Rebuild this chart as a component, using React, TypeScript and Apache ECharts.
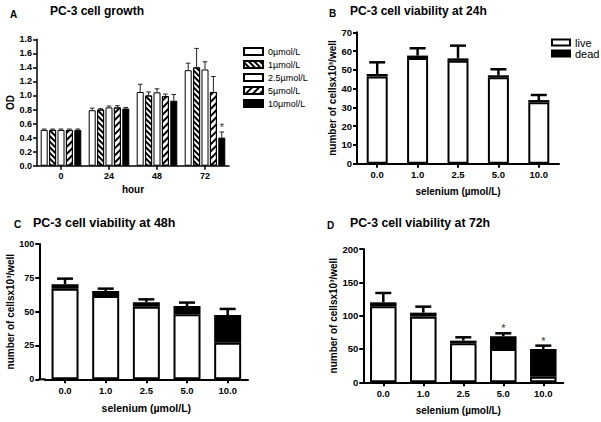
import React, { useEffect, useRef } from 'react';
import * as echarts from 'echarts';

const FONT = '"Liberation Sans", Arial, Helvetica, sans-serif';

// Panel A: PC-3 cell growth (OD)
const hours = ['0', '24', '48', '72'];
const concentrations = ['0µmol/L', '1µmol/L', '2.5µmol/L', '5µmol/L', '10µmol/L'];
const od0 = [0.51, 0.79, 1.05, 1.36];
const od1 = [0.51, 0.8, 1.0, 1.4];
const od25 = [0.51, 0.83, 1.045, 1.37];
const od5 = [0.51, 0.83, 0.99, 1.05];
const od10 = [0.51, 0.815, 0.925, 0.4];
const odErr0 = [0.012, 0.03, 0.11, 0.1];
const odErr1 = [0.012, 0.012, 0.05, 0.27];
const odErr25 = [0.012, 0.02, 0.05, 0.11];
const odErr5 = [0.012, 0.025, 0.03, 0.22];
const odErr10 = [0.012, 0.015, 0.09, 0.08];
const odSig0 = [0, 0, 0, 0];
const odSig1 = [0, 0, 0, 0];
const odSig25 = [0, 0, 0, 0];
const odSig5 = [0, 0, 0, 0];
const odSig10 = [0, 0, 0, 1];

// Panels B-D: viability (number of cells x10^3 / well)
const doses = ['0.0', '1.0', '2.5', '5.0', '10.0'];
const live24 = [46.5, 56.3, 54.8, 46.0, 32.8];
const dead24 = [1.3, 1.3, 1.3, 1.1, 1.1];
const err24 = [6.2, 3.9, 6.8, 3.2, 2.7];
const sig24 = [0, 0, 0, 0, 0];

const live48 = [67.0, 61.6, 53.7, 48.0, 27.0];
const dead48 = [3.2, 3.7, 3.2, 6.2, 20.5];
const err48 = [4.2, 1.7, 2.2, 2.5, 4.5];
const sig48 = [0, 0, 0, 0, 0];

const live72 = [114.0, 98.5, 58.5, 50.0, 8.5];
const dead72 = [6.0, 6.0, 4.0, 19.0, 41.5];
const err72 = [14.0, 9.0, 5.0, 4.5, 5.0];
const sig72 = [0, 0, 0, 1, 1];

const odValues = [od0, od1, od25, od5, od10];
const odErrors = [odErr0, odErr1, odErr25, odErr5, odErr10];
const odSigs = [odSig0, odSig1, odSig25, odSig5, odSig10];

const hatch = (rotation: number, dash: number[]) => ({
  symbol: 'rect',
  symbolSize: 1,
  color: '#000',
  dashArrayX: [1, 0],
  dashArrayY: dash,
  rotation,
});

const styleA = [
  { color: '#fff', borderColor: '#000', borderWidth: 1 },
  { color: '#fff', borderColor: '#000', borderWidth: 1, decal: hatch(Math.PI / 4, [2, 2]) },
  { color: '#fff', borderColor: '#000', borderWidth: 1 },
  { color: '#fff', borderColor: '#000', borderWidth: 1, decal: hatch(-Math.PI / 4, [1.5, 2.5]) },
  { color: '#000', borderColor: '#000', borderWidth: 1 },
];

const textBase = { fontFamily: FONT, color: '#000' };

function yAxisCfg(gridIndex: number, max: number, interval: number, decimals: number, name: string, nameGap: number, fontSize: number, lw: number, offset = 0) {
  return {
    type: 'value', gridIndex, min: 0, max, interval, offset,
    name, nameLocation: 'middle', nameGap,
    nameTextStyle: { ...textBase, fontSize: 10, fontWeight: 'bold' },
    axisLine: { show: true, lineStyle: { color: '#000', width: lw } },
    axisTick: { show: true, length: 4, lineStyle: { color: '#000', width: lw } },
    axisLabel: { ...textBase, margin: 5, fontSize, fontWeight: 'bold', formatter: (v: number) => v.toFixed(decimals) },
    splitLine: { show: false },
  };
}

function xAxisCfg(gridIndex: number, data: string[], name: string, nameGap: number, nameSize: number, fontSize: number, lw: number, namePad: number[] = [0, 0, 0, 0]) {
  return {
    type: 'category', gridIndex, data,
    name, nameLocation: 'middle', nameGap,
    nameTextStyle: { ...textBase, fontSize: nameSize, fontWeight: 'bold', padding: namePad },
    axisLine: { show: true, lineStyle: { color: '#000', width: lw } },
    axisTick: { show: true, alignWithLabel: true, length: 4, lineStyle: { color: '#000', width: lw } },
    axisLabel: { ...textBase, margin: 6, interval: 0, fontSize, fontWeight: 'bold' },
    splitLine: { show: false },
  };
}

function errRender(halfCap: number, lw: number, pitch: number, center: number, stroke: string) {
  return (params: any, api: any) => {
    const c = api.value(0);
    const top = api.value(1);
    const e = api.value(2);
    const sig = api.value(3);
    const k = api.value(4);
    const p0 = api.coord([c, top]);
    const p1 = api.coord([c, top + e]);
    const x = p0[0] + (k - center) * pitch;
    const children: any[] = [
      { type: 'line', shape: { x1: x, y1: p0[1], x2: x, y2: p1[1] }, style: { stroke, lineWidth: lw } },
      { type: 'line', shape: { x1: x - halfCap, y1: p1[1], x2: x + halfCap, y2: p1[1] }, style: { stroke, lineWidth: lw } },
    ];
    if (sig) {
      children.push({
        type: 'text', x, y: p1[1] - 5,
        style: { text: '*', fontSize: 11, fontFamily: FONT, fill: '#333', align: 'center', verticalAlign: 'middle' },
      });
    }
    return { type: 'group', children };
  };
}

function viabilitySeries(idx: number, live: number[], dead: number[], err: number[], sig: number[], barWidth: number) {
  return [
    {
      type: 'bar', name: 'live', xAxisIndex: idx, yAxisIndex: idx, stack: 'v' + idx, barWidth,
      data: live, itemStyle: { color: '#fff', borderColor: '#000', borderWidth: 2 },
    },
    {
      type: 'bar', name: 'dead', xAxisIndex: idx, yAxisIndex: idx, stack: 'v' + idx, barWidth,
      data: dead, itemStyle: { color: '#000', borderColor: '#000', borderWidth: 2 },
    },
    {
      type: 'custom', xAxisIndex: idx, yAxisIndex: idx, z: 5,
      dimensions: ['c', 'top', 'err', 'sig', 'k'], encode: { x: 0, y: 1 },
      renderItem: errRender(8, 2.5, 0, 0, '#000'),
      data: live.map((v, i) => [i, v + dead[i], err[i], sig[i], 0]),
    },
  ];
}

function buildOption() {
  const seriesA: any[] = odValues.map((vals, i) => ({
    type: 'bar', name: concentrations[i], xAxisIndex: 0, yAxisIndex: 0,
    data: vals, barWidth: 7, barGap: '20%', itemStyle: styleA[i],
  }));
  const errDataA: any[] = [];
  odValues.forEach((vals, k) => vals.forEach((v, c) => errDataA.push([c, v, odErrors[k][c], odSigs[k][c], k])));
  seriesA.push({
    type: 'custom', xAxisIndex: 0, yAxisIndex: 0, z: 5,
    dimensions: ['c', 'top', 'err', 'sig', 'k'], encode: { x: 0, y: 1 },
    renderItem: errRender(2.3, 1, 8.4, 2, '#222'),
    data: errDataA,
  });

  const titleStyle = (size: number) => ({ ...textBase, fontSize: size, fontWeight: 'bold' });
  const yName = 'number of cellsx10³/well';
  const xName = 'selenium (µmol/L)';

  return {
    animation: false,
    backgroundColor: '#fff',
    textStyle: { fontFamily: FONT },
    title: [
      { text: 'A', left: 10, top: 9, padding: 0, textStyle: titleStyle(10) },
      { text: 'PC-3 cell growth', left: 50, top: 5, padding: 0, textStyle: titleStyle(12) },
      { text: 'B', left: 329, top: 8, padding: 0, textStyle: titleStyle(10) },
      { text: 'PC-3 cell viability at 24h', left: 350, top: 5, padding: 0, textStyle: titleStyle(12) },
      { text: 'C', left: 14, top: 219, padding: 0, textStyle: titleStyle(10) },
      { text: 'PC-3 cell viability at 48h', left: 33, top: 216, padding: 0, textStyle: titleStyle(12.5) },
      { text: 'D', left: 327, top: 220, padding: 0, textStyle: titleStyle(10) },
      { text: 'PC-3 cell viability at 72h', left: 350, top: 217, padding: 0, textStyle: titleStyle(12.3) },
    ],
    legend: [
      {
        data: concentrations, orient: 'vertical', left: 238, top: 42, icon: 'rect',
        itemWidth: 19, itemHeight: 7, itemGap: 4, selectedMode: false,
        textStyle: { ...textBase, fontSize: 9 },
      },
      {
        data: ['live', 'dead'], orient: 'vertical', left: 546, top: 32, icon: 'rect',
        itemWidth: 18, itemHeight: 6, itemGap: 0, selectedMode: false,
        textStyle: { ...textBase, fontSize: 11 },
      },
    ],
    grid: [
      { left: 37, top: 39.3, width: 192, height: 126.4, containLabel: false, outerBoundsMode: 'none' },
      { left: 357, top: 32.3, width: 202, height: 131.4, containLabel: false, outerBoundsMode: 'none' },
      { left: 44.7, top: 244, width: 203.3, height: 135.3, containLabel: false, outerBoundsMode: 'none' },
      { left: 363.3, top: 249, width: 200, height: 133.3, containLabel: false, outerBoundsMode: 'none' },
    ],
    xAxis: [
      xAxisCfg(0, hours, 'hour', 19, 10, 9, 1.5),
      xAxisCfg(1, doses, xName, 23, 10, 9.5, 2),
      xAxisCfg(2, doses, xName, 23, 10.5, 9.5, 2),
      xAxisCfg(3, doses, xName, 22.7, 10, 9.5, 2, [0, 10, 0, 0]),
    ],
    yAxis: [
      yAxisCfg(0, 1.8, 0.2, 1, 'OD', 19, 9, 1.5),
      yAxisCfg(1, 70, 10, 0, yName, 17.7, 9.5, 2),
      yAxisCfg(2, 100, 25, 0, yName, 18.3, 9, 2, 5.4),
      yAxisCfg(3, 200, 50, 0, yName, 24, 9.5, 2),
    ],
    graphic: [
      { type: 'line', shape: { x1: 38.3, y1: 379.3, x2: 45.7, y2: 379.3 }, style: { stroke: '#000', lineWidth: 2 } },
    ],
    series: [
      ...seriesA,
      ...viabilitySeries(1, live24, dead24, err24, sig24, 21),
      ...viabilitySeries(2, live48, dead48, err48, sig48, 27),
      ...viabilitySeries(3, live72, dead72, err72, sig72, 26.5),
    ],
  };
}

export default function App() {
  const ref = useRef<HTMLDivElement>(null);
  useEffect(() => {
    const chart = echarts.init(ref.current as HTMLDivElement, null, { renderer: 'svg' });
    chart.setOption(buildOption() as any);
    return () => chart.dispose();
  }, []);
  return (
    <div
      ref={ref}
      style={{ position: 'fixed', left: 0, top: 0, width: 601, height: 422, background: '#fff' }}
    />
  );
}
